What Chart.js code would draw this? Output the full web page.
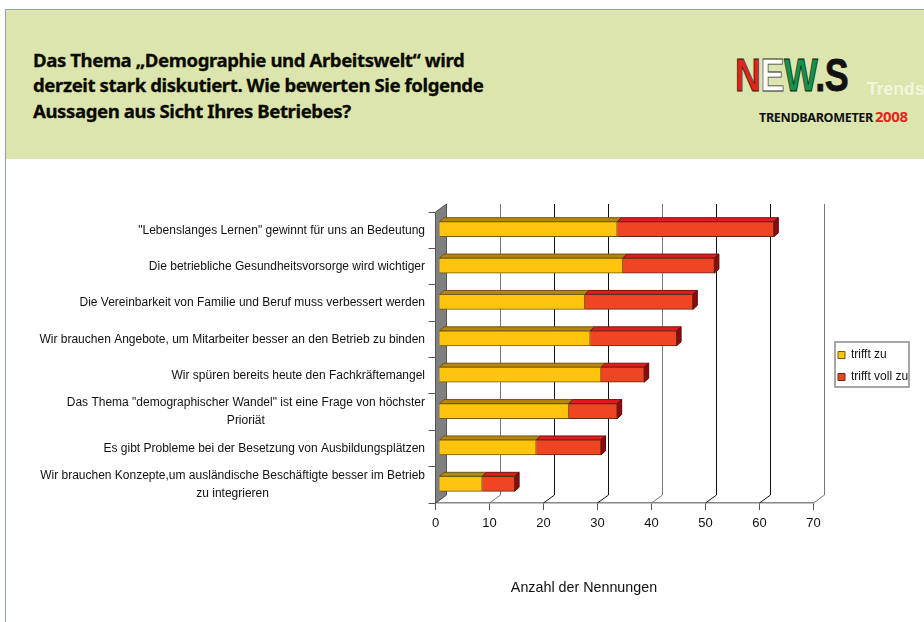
<!DOCTYPE html>
<html lang="de">
<head>
<meta charset="utf-8">
<title>Demographie und Arbeitswelt</title>
<script src="https://cdn.jsdelivr.net/npm/chart.js@4"></script>
<style>
html,body{margin:0;padding:0;background:#fff;width:924px;height:622px;overflow:hidden}
#wrap{position:relative;width:924px;height:622px;overflow:hidden}
#chart{position:absolute;left:0;top:0;width:924px;height:622px}
#band{position:absolute;left:5px;top:9px;width:919px;height:150px;background:#dbe5ad;border-top:1px solid #8ca3ba;box-sizing:border-box}
#leftline{position:absolute;left:5px;top:9px;width:1px;height:613px;background:#8ca3ba}
#head{position:absolute;left:33px;top:47px;font:700 18.6px/25.4px "Noto Sans",sans-serif;color:#0a0a00;white-space:nowrap;letter-spacing:-.42px;-webkit-text-stroke:.3px #0a0a00}
#logo{position:absolute;left:735px;top:50px;font:700 46px/50px "Liberation Sans",sans-serif;white-space:nowrap;transform:scaleX(.78);transform-origin:0 0;letter-spacing:-.6px;color:#111;-webkit-text-stroke:.8px #111}
#logo .n{color:#e1251b;-webkit-text-stroke:.8px #222}#logo .e{color:#fff;-webkit-text-stroke:.8px #333}#logo .w{color:#14924a;-webkit-text-stroke:.8px #111}
#trends{position:absolute;left:867px;top:79px;font:700 17.5px/20px "Liberation Sans",sans-serif;color:#f2f5dc;white-space:nowrap}
#baro{position:absolute;left:759px;top:108px;font:700 12.6px/16px "Noto Sans",sans-serif;color:#111;white-space:nowrap;letter-spacing:-.35px}
#baro span{color:#e1251b;font-size:15px;margin-left:-1px}
</style>
</head>
<body>
<div id="wrap">
  <canvas id="chart" width="924" height="622"></canvas>
  <div id="band"></div>
  <div id="leftline"></div>
  <div id="head">Das Thema „Demographie und Arbeitswelt“ wird<br>derzeit stark diskutiert. Wie bewerten Sie folgende<br>Aussagen aus Sicht Ihres Betriebes?</div>
  <div id="logo"><span class="n">N</span><span class="e">E</span><span class="w">W</span>.S</div>
  <div id="trends">Trends</div>
  <div id="baro">TRENDBAROMETER <span>2008</span></div>
</div>
<script>
const categories = [
  ['"Lebenslanges Lernen" gewinnt für uns an Bedeutung'],
  ['Die betriebliche Gesundheitsvorsorge wird wichtiger'],
  ['Die Vereinbarkeit von Familie und Beruf muss verbessert werden'],
  ['Wir brauchen Angebote, um Mitarbeiter besser an den Betrieb zu binden'],
  ['Wir spüren bereits heute den Fachkräftemangel'],
  ['Das Thema "demographischer Wandel" ist eine Frage von höchster','Prioriät'],
  ['Es gibt Probleme bei der Besetzung von Ausbildungsplätzen'],
  ['Wir brauchen Konzepte,um ausländische Beschäftigte besser im Betrieb','zu integrieren']
];
const trifftZu = [33, 34, 27, 28, 30, 24, 18, 8];
const trifftVollZu = [29, 17, 20, 16, 8, 9, 12, 6];
const axisTitle = 'Anzahl der Nennungen';
const gridColors = ['#555','#777','#111','#111','#777','#111','#111','#777'];

const DX = 11, DY = 8;       // depth of the back wall
const BX = 4.5, BY = 4;      // depth of the bars
const SHIFT_X = 3.5, SHIFT_Y = -1;
const FONT = '"Liberation Sans", Arial, sans-serif';

function poly(ctx, pts, fill, stroke) {
  ctx.beginPath();
  pts.forEach((p, i) => i ? ctx.lineTo(p[0], p[1]) : ctx.moveTo(p[0], p[1]));
  ctx.closePath();
  ctx.fillStyle = fill; ctx.fill();
  if (stroke) { ctx.strokeStyle = stroke; ctx.lineWidth = 1; ctx.stroke(); }
}

const depthPlugin = {
  id: 'depth',
  afterLayout(chart) {
    const l = chart.legend;
    l.left = 828; l.right = 909; l.top = 339; l.bottom = 440;
  },
  beforeDraw(chart) {
    const ctx = chart.ctx;
    ctx.save();
    ctx.strokeStyle = '#8a8a8a'; ctx.lineWidth = 1.5;
    ctx.fillStyle = '#fff';
    ctx.fillRect(835, 342, 74, 45);
    ctx.strokeRect(835, 342, 74, 45);
    ctx.restore();
  },
  beforeDatasetsDraw(chart) {
    const ctx = chart.ctx, x = chart.scales.x, y = chart.scales.y;
    const top = y.top, bot = y.bottom, x0 = x.left;
    ctx.save();
    // back wall grid
    x.ticks.forEach((t, i) => {
      const px = x.getPixelForValue(t.value);
      ctx.beginPath();
      ctx.moveTo(px, bot);
      ctx.lineTo(px + DX, bot - DY);
      ctx.lineTo(px + DX, top - DY);
      ctx.strokeStyle = gridColors[i];
      ctx.lineWidth = 1;
      ctx.stroke();
    });
    // left wall
    poly(ctx, [[x0, bot], [x0 + DX, bot - DY], [x0 + DX, top - DY], [x0, top]], '#808080', '#555');
    // category labels, centred line by line
    ctx.font = '12px ' + FONT;
    ctx.fillStyle = '#111';
    ctx.textAlign = 'center';
    ctx.textBaseline = 'middle';
    categories.forEach((lines, i) => {
      const w = Math.max(...lines.map(s => ctx.measureText(s).width));
      const cx = 425 - w / 2, cy = y.getPixelForValue(i);
      lines.forEach((s, k) => ctx.fillText(s, cx, cy + (k - (lines.length - 1) / 2) * 18));
    });
    // axis title
    ctx.font = '14.3px ' + FONT;
    ctx.fillText(axisTitle, 584, 588);
    ctx.restore();

    // 3D faces of the bars
    ctx.save();
    ctx.translate(SHIFT_X, SHIFT_Y);
    const tops = ['#b8860b', '#e3191f'];
    const lines = ['#6e5510', '#7a1410'];
    chart.data.datasets.forEach((ds, d) => {
      chart.getDatasetMeta(d).data.forEach(b => {
        const t = b.y - b.height / 2, bt = b.y + b.height / 2;
        poly(ctx, [[b.base, t], [b.base + BX, t - BY], [b.x + BX, t - BY], [b.x, t]], tops[d], lines[d]);
        if (d === chart.data.datasets.length - 1) {
          poly(ctx, [[b.x, t], [b.x + BX, t - BY], [b.x + BX, bt - BY], [b.x, bt]], '#8e0b0b', '#5a0a0a');
        }
      });
    });
  },
  afterDatasetsDraw(chart) {
    chart.ctx.restore();
  }
};

new Chart(document.getElementById('chart'), {
  type: 'bar',
  plugins: [depthPlugin],
  data: {
    labels: categories,
    datasets: [
      { label: 'trifft zu', data: trifftZu, backgroundColor: '#ffc40d', borderColor: '#6e5a12', borderWidth: 1, barThickness: 15, clip: false },
      { label: 'trifft voll zu', data: trifftVollZu, backgroundColor: '#f04523', borderColor: '#5e2a18', borderWidth: 1, barThickness: 15, clip: false }
    ]
  },
  options: {
    indexAxis: 'y',
    responsive: false,
    animation: false,
    devicePixelRatio: 1,
    layout: { padding: { left: 0, top: 212, right: 110.5, bottom: 0 } },
    plugins: {
      tooltip: { enabled: false },
      title: { display: false },
      legend: {
        position: 'chartArea',
        align: 'start',
        labels: { boxWidth: 7, boxHeight: 7, padding: 10, color: '#111', font: { family: FONT, size: 12 } }
      }
    },
    scales: {
      x: {
        stacked: true, min: 0, max: 70,
        afterFit(s) { s.height = 119; },
        ticks: { stepSize: 10, maxRotation: 0, color: '#111', padding: 6, font: { family: FONT, size: 13 } },
        grid: { drawOnChartArea: false, color: '#555', tickLength: 7 },
        border: { color: '#888', width: 1.5 }
      },
      y: {
        stacked: true,
        afterFit(s) { s.width = 435.5; },
        ticks: { display: false },
        grid: { drawOnChartArea: false, color: '#555', tickLength: 7, offset: true },
        border: { color: '#555', width: 1 }
      }
    }
  }
});
</script>
</body>
</html>
